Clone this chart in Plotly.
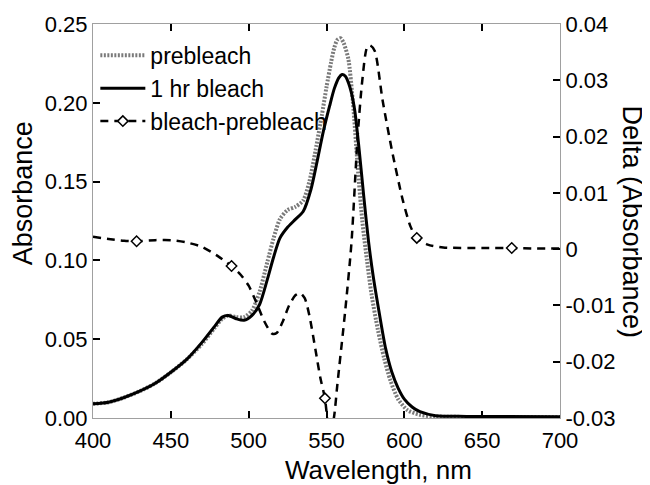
import plotly.graph_objects as go

# absorbance spectra (left axis)
wl_pre = [400, 410, 420, 430, 440, 450, 460, 470, 478, 483, 487, 492, 497, 502, 507, 512, 516,
          520, 525, 530, 535, 539, 543, 547, 550, 553, 555, 557, 559, 561, 564, 567, 570, 573,
          576, 579, 583, 587, 591, 596, 602, 610, 620, 650, 700]
abs_pre = [0.009, 0.010, 0.013, 0.017, 0.022, 0.029, 0.037, 0.047, 0.057, 0.063, 0.065, 0.064,
           0.064, 0.068, 0.080, 0.099, 0.114, 0.126, 0.132, 0.134, 0.138, 0.150, 0.170, 0.192,
           0.210, 0.226, 0.235, 0.240, 0.241, 0.238, 0.228, 0.200, 0.160, 0.125, 0.100, 0.078,
           0.056, 0.038, 0.024, 0.012, 0.005, 0.002, 0.001, 0.0006, 0.0005]

wl_bl = [400, 410, 420, 430, 440, 450, 460, 470, 478, 483, 487, 492, 497, 502, 507, 512, 516,
         520, 525, 530, 535, 540, 544, 548, 552, 555, 558, 560, 562, 565, 568, 571, 574, 577,
         580, 584, 588, 592, 596, 600, 605, 610, 620, 640, 700]
abs_bl = [0.009, 0.010, 0.013, 0.017, 0.022, 0.029, 0.037, 0.048, 0.058, 0.064, 0.065, 0.063,
          0.062, 0.065, 0.072, 0.088, 0.102, 0.114, 0.121, 0.126, 0.131, 0.145, 0.163, 0.182,
          0.198, 0.209, 0.216, 0.218, 0.217, 0.210, 0.196, 0.170, 0.140, 0.112, 0.090, 0.066,
          0.044, 0.029, 0.019, 0.012, 0.007, 0.004, 0.0015, 0.001, 0.0008]

# difference spectrum (right axis)
wl_delta = [400, 410, 420, 428, 440, 450, 460, 470, 480, 489, 495, 500, 505, 510, 515, 518, 522,
            526, 530, 533, 536, 539, 543, 546, 549, 551, 553, 555, 557, 562, 566, 570, 573, 576,
            578, 581, 586, 592, 599, 604, 608, 615, 625, 650, 669, 685, 700]
delta = [0.0022, 0.0018, 0.0015, 0.0014, 0.0016, 0.0016, 0.0012, 0.0004, -0.0012, -0.0030,
         -0.0046, -0.0065, -0.0095, -0.0128, -0.0150, -0.0149, -0.0128, -0.0100, -0.0082,
         -0.0078, -0.0087, -0.0118, -0.0180, -0.0228, -0.0265, -0.0310, -0.0325, -0.0295,
         -0.0240, -0.0110, 0.0010, 0.0200, 0.0300, 0.0358, 0.0362, 0.0352, 0.0265, 0.0176,
         0.0087, 0.0040, 0.0020, 0.0008, 0.0003, 0.0002, 0.0002, 0.0001, 0.0001]
delta_marker_wl = [428, 489, 549, 608, 669]

y2_tickvals = [-0.03, -0.02, -0.01, 0, 0.01, 0.02, 0.03, 0.04]
y2_ticktext = ["-0.03", "-0.02", "-0.01", "0", "0.01", "0.02", "0.03", "0.04"]

lookup = dict(zip(wl_delta, delta))
marker_y = [lookup[w] for w in delta_marker_wl]

FONT = "Liberation Sans, Arial, sans-serif"
dash_delta = "8px,6px"
diamond = dict(symbol="diamond", size=8, color="white", line=dict(color="black", width=1.5))

fig = go.Figure()
fig.add_trace(go.Scatter(x=wl_pre, y=abs_pre, mode="lines", name="prebleach",
                         line=dict(color="#7a7a7a", width=4, dash="2px,1.5px", shape="spline", smoothing=0.7)))
fig.add_trace(go.Scatter(x=wl_bl, y=abs_bl, mode="lines", name="1 hr bleach",
                         line=dict(color="black", width=3, shape="spline", smoothing=0.7)))
fig.add_trace(go.Scatter(x=wl_delta, y=delta, mode="lines", yaxis="y2", showlegend=False,
                         line=dict(color="black", width=2.5, dash=dash_delta, shape="spline", smoothing=0.7)))
fig.add_trace(go.Scatter(x=delta_marker_wl, y=marker_y, mode="markers", yaxis="y2",
                         showlegend=False, marker=diamond))
# legend entry for the difference curve
fig.add_trace(go.Scatter(x=[None], y=[None], mode="lines+markers", yaxis="y2",
                         name="bleach-prebleach", marker=diamond,
                         line=dict(color="black", width=2.5, dash=dash_delta)))

axis_common = dict(showgrid=False, zeroline=False, showline=True, linecolor="#a0a0a0",
                   linewidth=1, ticks="inside", ticklen=7, tickwidth=2, tickcolor="black",
                   tickfont=dict(size=22, color="black", family=FONT))

# page body adds an 8px offset, so the figure is 8px smaller than the window
fig.update_layout(
    width=642, height=477,
    margin=dict(l=85, r=90, t=16, b=67, autoexpand=False),
    plot_bgcolor="white", paper_bgcolor="white",
    font=dict(family=FONT, color="black"),
    xaxis=dict(range=[400, 700], dtick=50, mirror="ticks", ticklabelstandoff=3, **axis_common),
    yaxis=dict(range=[0, 0.25], dtick=0.05, tickformat=".2f", ticklabelstandoff=0, **axis_common),
    yaxis2=dict(range=[-0.03, 0.04], tickvals=y2_tickvals, ticktext=y2_ticktext,
                overlaying="y", side="right", ticklabelstandoff=0, **axis_common),
    legend=dict(x=0.005, y=0.975, xanchor="left", yanchor="top", bgcolor="rgba(0,0,0,0)",
                font=dict(size=23, family=FONT), tracegroupgap=0, itemwidth=45),
    showlegend=True,
    annotations=[
        dict(text="Wavelength, nm", xref="paper", yref="paper", x=0.612, y=-0.133,
             xanchor="center", yanchor="middle", showarrow=False, font=dict(size=26)),
        dict(text="Absorbance", xref="paper", yref="paper", x=-0.148, y=0.57, textangle=-90,
             xanchor="center", yanchor="middle", showarrow=False, font=dict(size=27)),
        dict(text="Delta (Absorbance)", xref="paper", yref="paper", x=1.155, y=0.498,
             textangle=90, xanchor="center", yanchor="middle", showarrow=False,
             font=dict(size=27)),
    ],
)

fig.write_html("out.html")
